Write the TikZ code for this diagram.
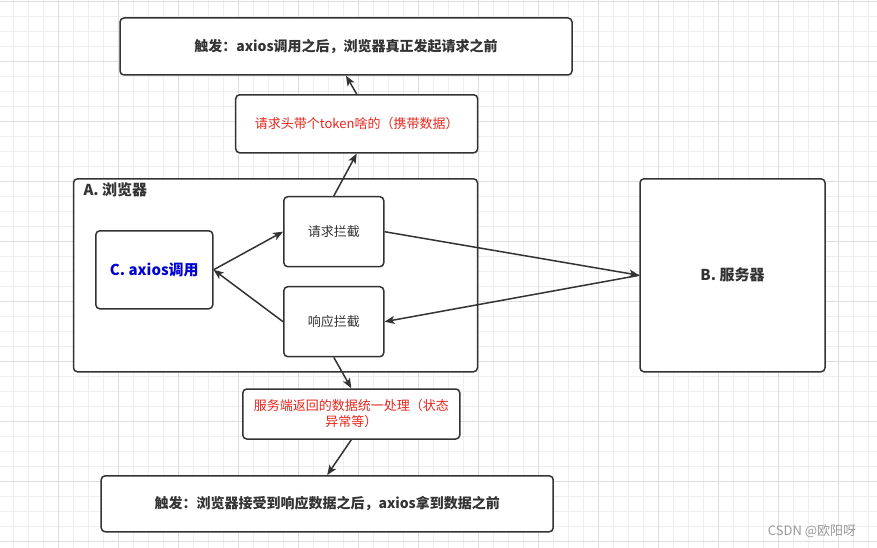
\documentclass[tikz,border=0pt]{standalone}
\usepackage{fontspec}
\setmainfont{Noto Sans CJK SC}
\usepackage{xcolor}
\usepackage{tikz}
\usetikzlibrary{arrows.meta,positioning}
\definecolor{cL}{HTML}{333333}
\definecolor{cR}{HTML}{E8261C}
\definecolor{cB}{HTML}{0000D0}
\definecolor{cG}{HTML}{EEEEEE}
\definecolor{cH}{HTML}{DEDEDE}
\definecolor{cW}{HTML}{9A9A9A}
\tikzset{box/.style={draw=cL,fill=white,line width=1.5pt,rounded corners=4,inner sep=0pt,text=cL,align=center},
  big/.style={font=\fontsize{14}{17}\selectfont\bfseries},
  small/.style={font=\fontsize{13}{16}\selectfont},
  arr/.style={draw=cL,line width=1.5pt,-{Stealth[length=10pt,width=8pt,inset=2.5pt]}}}

\begin{document}
\begin{tikzpicture}[x=1pt,y=-1pt]
  \useasboundingbox[fill=white] (0,0) rectangle (877,548);
  \foreach \i in {0,...,57} \draw[cG,line width=0.8pt] ({13.3+15*\i},0) -- ++(0,548);
  \foreach \j in {0,...,36} \draw[cG,line width=0.8pt] (0,{1.7+15*\j}) -- ++(877,0);
  \foreach \i in {0,...,13} \draw[cH,line width=0.8pt] ({58.3+60*\i},0) -- ++(0,548);
  \foreach \j in {0,...,9} \draw[cH,line width=0.8pt] (0,{1.7+60*\j}) -- ++(877,0);
  % browser and server
  \node[box,minimum width=404pt,minimum height=193pt] (browser) at (275.5,275.3) {};
  \node[font=\fontsize{15}{18}\selectfont\bfseries,text=cL,anchor=west] (browserlbl) at (80,190) {A. 浏览器};
  \node[box,minimum width=185pt,minimum height=193pt,font=\fontsize{15}{18}\selectfont\bfseries] (server) at (732.5,275.3) {B. 服务器};
  \node[box,minimum width=117pt,minimum height=78pt,font=\fontsize{15}{18}\selectfont\bfseries,text=cB] (axios) at (154.3,269.8) {C. axios调用};
  \node[box,small,minimum width=100pt,minimum height=70pt] (req) at (333.8,231.7) {请求拦截};
  \node[box,small,minimum width=100pt,minimum height=70pt] (resp) at (333.8,321.7) {响应拦截};
  % notes above and below
  \node[box,small,text=cR,minimum width=242pt,minimum height=58pt] (token) at (356.7,123.8) {请求头带个token啥的（携带数据）};
  \node[box,big,minimum width=452pt,minimum height=57pt] (before) at (346,46.5) {触发：axios调用之后，浏览器真正发起请求之前};
  \node[box,small,text=cR,minimum width=217pt,minimum height=50pt] (handle) at (351.3,414) {服务端返回的数据统一处理（状态\\异常等）};
  \node[box,big,minimum width=452pt,minimum height=56pt] (after) at (327.2,503.8) {触发：浏览器接受到响应数据之后，axios拿到数据之前};
  \draw[arr] (axios.east) -- (req.west);
  \draw[arr] (resp.west) -- (axios.east);
  \draw[arr] (req.east) -- (server.west);
  \draw[arr] (server.west) -- (resp.east);
  \draw[arr] (req.north) -- (token.south);
  \draw[arr] (token.north) -- (before.south);
  \draw[arr] (resp.south) -- (handle.north);
  \draw[arr] (handle.south) -- (after.north);
  \node[font=\fontsize{13}{16}\selectfont,text=cW] (mark) at (812,531) {CSDN @欧阳呀};
\end{tikzpicture}
\end{document}
